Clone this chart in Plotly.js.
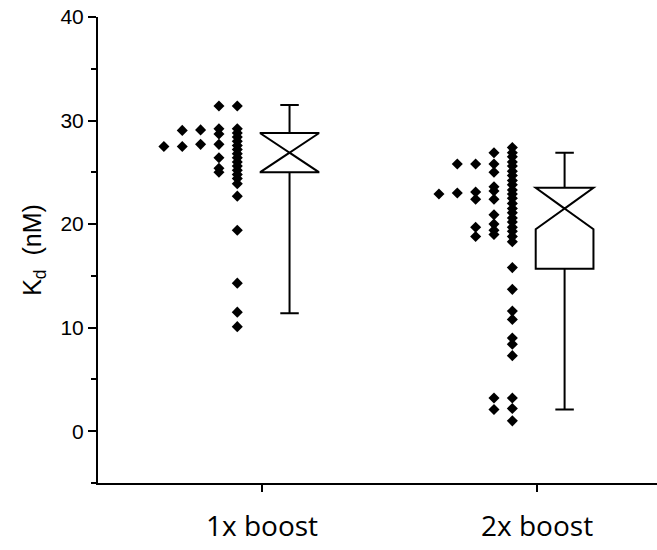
<!DOCTYPE html>
<html><head><meta charset="utf-8">
<script src="https://cdn.plot.ly/plotly-3.0.1.min.js"></script>
<style>html,body{margin:0;padding:0;background:#fff}</style>
</head><body><div id="chart" style="width:657px;height:550px"></div>
<script>
// ---- data ----
const categories = ['1x boost', '2x boost'];
const categoryPos = [1, 2];

const kd1x = [31.4, 29.2, 28.8, 28.4, 28.0, 27.6, 27.2, 26.8, 26.4, 26.0, 25.6, 25.2, 24.8, 24.4, 23.9, 22.7, 19.4, 14.3, 11.5, 10.1,
              31.4, 29.1, 28.7, 27.5, 26.4, 25.0,
              29.2, 27.5, 25.4,
              29.05, 27.7,
              27.7];
const kd2x = [27.4, 26.9, 26.5, 26.0, 25.6, 25.1, 24.7, 24.2, 23.8, 23.3, 22.9, 22.4, 22.0, 21.5, 21.1, 20.6, 20.2, 19.7, 19.3, 18.8, 18.3,
              15.8, 13.7, 11.6, 10.8, 9.0, 8.4, 7.3, 3.2, 2.2, 1.0,
              26.9, 25.8, 25.0, 23.6, 23.1, 22.5, 20.9, 20.0, 19.4, 18.8, 3.2, 2.1,
              25.8, 22.9, 19.7, 19.0,
              25.8, 23.0, 22.4,
              23.2];

const boxQ1     = [25.0, 15.7];
const boxMedian = [26.9, 21.5];
const boxQ3     = [28.8, 23.5];
const boxLower  = [11.4, 2.1];
const boxUpper  = [31.5, 26.9];
const boxNotch  = [1.85, 2.0];

const yTickVals = [0, 10, 20, 30, 40];
const yMinorVals = [-5, 5, 15, 25, 35];

// ---- layout helpers (positions derived from data) ----
const COL0 = -0.09, STEP = 0.0667, MIN_GAP = 0.38, BOX_SHIFT = 0.1;
function swarm(values, center) {
  const sorted = values.slice().sort((a, b) => b - a);
  const cols = [];
  const xs = [], ys = [];
  sorted.forEach(v => {
    let c = 0;
    while (cols[c] && cols[c].some(u => Math.abs(u - v) < MIN_GAP)) c++;
    (cols[c] = cols[c] || []).push(v);
    xs.push(center + COL0 - c * STEP);
    ys.push(v);
  });
  return {xs, ys};
}

const s1 = swarm(kd1x, categoryPos[0]);
const s2 = swarm(kd2x, categoryPos[1]);

const markerStyle = {symbol: 'diamond', size: 8.5, color: '#000'};
const traces = [
  {type: 'scatter', mode: 'markers', x: s1.xs, y: s1.ys, marker: markerStyle, showlegend: false, cliponaxis: false, hoverinfo: 'y'},
  {type: 'scatter', mode: 'markers', x: s2.xs, y: s2.ys, marker: markerStyle, showlegend: false, cliponaxis: false, hoverinfo: 'y'},
  {type: 'box', x: categoryPos.map(p => p + BOX_SHIFT),
   q1: boxQ1, median: boxMedian, q3: boxQ3, lowerfence: boxLower, upperfence: boxUpper,
   notchspan: boxNotch, notched: true, notchwidth: 0.5,
   width: 0.21, whiskerwidth: 0.32, boxpoints: false,
   line: {color: '#000', width: 2}, fillcolor: '#fff', showlegend: false}
];

const layout = {
  width: 657, height: 550,
  margin: {l: 98, r: 0, t: 17, b: 67, pad: 0},
  paper_bgcolor: '#fff', plot_bgcolor: '#fff',
  showlegend: false,
  font: {family: 'Liberation Sans, Arial, sans-serif', color: '#000', size: 20},
  xaxis: {
    range: [0.4036, 2.436], tickmode: 'array', tickvals: categoryPos, ticktext: categories,
    ticks: 'outside', ticklen: 7, tickwidth: 2, tickcolor: '#000',
    showline: true, linewidth: 2, linecolor: '#000', showgrid: false, zeroline: false,
    tickfont: {family: 'Open Sans, Noto Sans, sans-serif', size: 28, color: '#000'},
    ticklabelstandoff: 10
  },
  yaxis: {
    range: [-5, 40], tickmode: 'array', tickvals: yTickVals,
    ticks: 'outside', ticklen: 8, tickwidth: 2, tickcolor: '#000',
    minor: {tickmode: 'array', tickvals: yMinorVals, ticks: 'outside', ticklen: 5, tickwidth: 2, tickcolor: '#000'},
    showline: true, linewidth: 2, linecolor: '#000', showgrid: false, zeroline: false,
    tickfont: {family: 'Liberation Sans, Arial, sans-serif', size: 21, color: '#000'},
    title: {text: 'K<sub>d</sub>  (nM)', font: {family: 'Liberation Sans, Arial, sans-serif', size: 25, color: '#000'}, standoff: 12}
  }
};

Plotly.newPlot('chart', traces, layout, {displayModeBar: false, staticPlot: true});
</script>
</body></html>
